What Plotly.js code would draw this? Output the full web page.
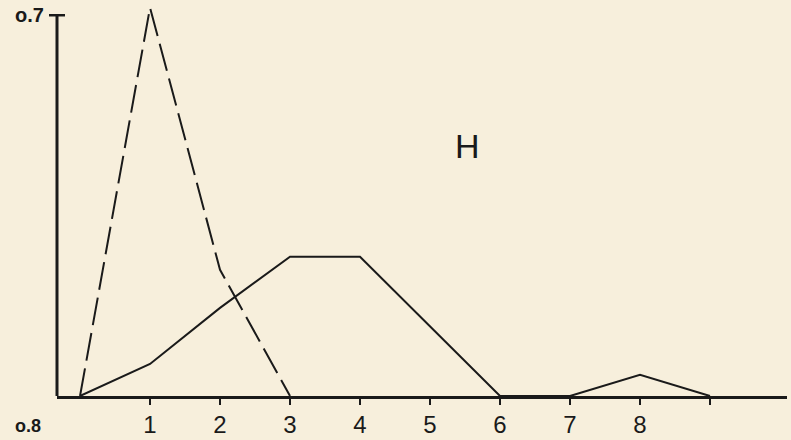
<!DOCTYPE html>
<html>
<head>
<meta charset="utf-8">
<script src="https://cdn.plot.ly/plotly-3.0.1.min.js"></script>
<style>html,body{margin:0;padding:0;background:#f7efdc;}#chart{width:791px;height:440px;}</style>
</head>
<body>
<div id="chart"></div>
<script>
// Values
var dashedX = [0, 1, 2, 3];
var dashedY = [0, 0.714, 0.232, 0];
var solidX = [0, 1, 2, 3, 4, 6, 7, 8, 9];
var solidY = [0, 0.059, 0.162, 0.256, 0.256, 0, 0, 0.039, 0];
var xTickVals = [1, 2, 3, 4, 5, 6, 7, 8, 9];
var xTickText = ['1', '2', '3', '4', '5', '6', '7', '8', ''];
var yTickVals = [0.7];
var yTickText = ['o.7'];
var panelLabel = 'H';
var cutLabel = 'o.8';

var ink = '#1a1a1a';
var traces = [
  {x: dashedX, y: dashedY, mode: 'lines', line: {color: ink, width: 2, dash: '28px,8px'}, hoverinfo: 'skip', cliponaxis: false},
  {x: solidX, y: solidY, mode: 'lines', line: {color: ink, width: 2}, hoverinfo: 'skip', cliponaxis: false}
];

var layout = {
  width: 791, height: 440,
  margin: {l: 57, r: 4, t: 0, b: 44},
  paper_bgcolor: '#f7efdc', plot_bgcolor: 'rgba(0,0,0,0)',
  showlegend: false,
  font: {family: 'Liberation Sans, Arial, sans-serif', color: ink},
  xaxis: {
    range: [-0.329, 10.1], showgrid: false, zeroline: false,
    showline: true, linecolor: ink, linewidth: 2.5,
    ticks: 'outside', ticklen: 6, tickwidth: 2, tickcolor: ink,
    tickvals: xTickVals, ticktext: xTickText,
    tickfont: {size: 24, color: ink}, ticklabelstandoff: 0
  },
  yaxis: {
    range: [0, 0.728], showgrid: false, zeroline: false, showline: false,
    ticks: '', tickvals: yTickVals, ticktext: yTickText,
    tickfont: {size: 20, color: ink, weight: 'bold'}, ticklabelstandoff: 12
  },
  shapes: [
    {type: 'line', xref: 'paper', yref: 'y', x0: 0, x1: 0, y0: 0, y1: 0.7, line: {color: ink, width: 3}},
    {type: 'line', xref: 'paper', yref: 'y', x0: -0.011, x1: 0.011, y0: 0.7, y1: 0.7, line: {color: ink, width: 2.5}}
  ],
  annotations: [
    {x: 5.54, y: 0.46, xref: 'x', yref: 'y', text: panelLabel, showarrow: false, font: {size: 34, color: ink}},
    {x: -0.04, y: -0.076, xref: 'paper', yref: 'paper', xanchor: 'center', yanchor: 'middle', text: cutLabel, showarrow: false, font: {size: 18, color: ink, weight: 'bold'}}
  ]
};

Plotly.newPlot('chart', traces, layout, {staticPlot: true, displayModeBar: false});
</script>
</body>
</html>
